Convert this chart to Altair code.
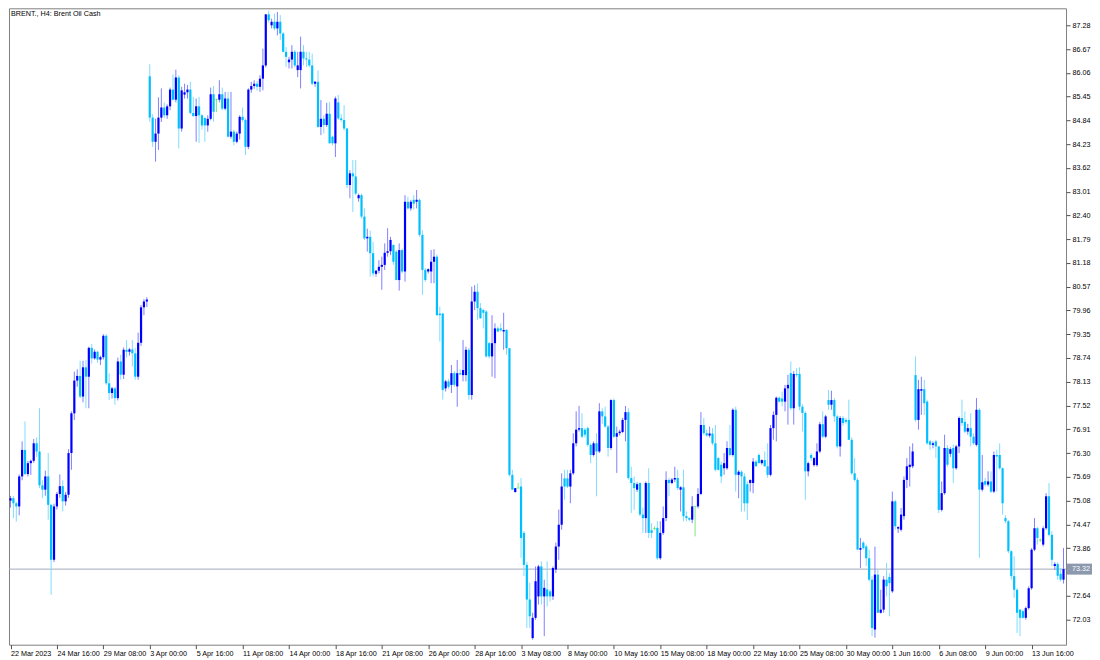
import json
import altair as alt
import pandas as pd

TITLE = "BRENT., H4:  Brent Oil Cash"
LAST_PRICE = 73.32

OPEN = [
    # 0-47
    75.08, 75.14, 75.01, 74.93, 75.70, 76.38, 75.76, 76.04, 76.10, 76.55,
    76.34, 75.47, 75.36, 75.70, 74.97, 73.56, 74.93, 75.25, 75.45, 75.06,
    75.23, 76.30, 77.32, 78.16, 78.28, 77.75, 78.50, 78.26, 79.00, 78.73,
    78.90, 78.70, 78.76, 79.31, 78.09, 77.84, 77.96, 77.71, 78.65, 78.31,
    78.95, 78.90, 78.96, 78.86, 78.26, 79.13, 80.04, 80.19,
    # 48-116
    85.97, 84.91, 84.29, 84.50, 84.91, 85.17, 84.97, 85.20, 85.63, 85.37,
    85.94, 84.63, 85.50, 85.56, 85.63, 85.03, 84.95, 85.20, 84.97, 84.90,
    84.71, 84.88, 85.51, 85.37, 85.37, 85.51, 85.14, 85.40, 84.42, 84.55,
    84.29, 84.50, 84.93, 84.85, 84.16, 85.63, 85.72, 85.78, 85.70, 85.91,
    86.25, 87.56, 87.28, 87.37, 87.20, 87.37, 87.07, 86.60, 86.33, 86.40,
    86.60, 86.13, 86.13, 86.60, 86.43, 86.40, 86.25, 85.78, 85.83, 84.67,
    84.88, 84.72, 85.01, 84.42, 84.25, 85.30, 84.89, 84.85, 84.63,
    # 117-171
    83.18, 83.48, 83.40, 82.84, 82.92, 82.37, 81.81, 81.85, 81.43, 80.90,
    80.98, 81.08, 81.13, 81.44, 81.48, 81.64, 81.47, 80.74, 81.51, 80.96,
    82.75, 82.58, 82.80, 82.75, 82.80, 81.90, 81.00, 80.96, 80.96, 81.21,
    81.34, 79.88, 79.88, 77.96, 78.14, 78.05, 78.35, 78.01, 78.35, 78.30,
    78.30, 78.95, 77.79, 80.19, 80.44, 80.02, 79.97, 79.93, 79.12, 78.78,
    79.12, 79.50, 79.50, 79.42, 79.46,
    # 172-214
    78.99, 75.74, 75.30, 75.40, 75.44, 74.25, 73.43, 72.54, 71.55, 72.07,
    72.62, 73.39, 72.62, 72.80, 72.75, 72.62, 73.31, 73.90, 74.46, 75.65,
    75.65, 75.44, 75.78, 76.55, 76.90, 76.94, 76.90, 76.94, 76.51, 76.25,
    76.55, 76.34, 77.37, 77.24, 76.98, 76.43, 77.66, 76.72, 76.81, 76.84,
    77.15, 77.35, 75.66,
    # 215-289
    75.53, 75.36, 75.53, 74.72, 74.63, 75.53, 74.32, 74.36, 74.38, 73.60,
    74.25, 74.63, 75.61, 75.53, 75.62, 75.66, 75.36, 75.42, 74.68, 74.63,
    74.59, 74.93, 74.93, 75.25, 77.02, 76.81, 76.75, 76.80, 76.55, 76.17,
    76.00, 75.91, 75.91, 76.43, 76.25, 77.41, 75.74, 75.82, 75.70, 75.50,
    75.53, 75.53, 76.08, 76.25, 76.04, 76.12, 75.96, 75.74, 76.94, 77.28,
    77.72, 77.70, 77.62, 77.96, 78.35, 77.45, 78.33, 78.33, 77.49, 77.33,
    75.83, 76.25, 75.99, 75.99, 76.34, 77.04, 76.72, 77.66, 77.54, 77.66,
    77.24, 76.47, 77.20, 77.15, 77.15,
    # 290-363
    76.64, 75.78, 75.61, 73.82, 74.00, 73.90, 73.60, 73.05, 71.77, 73.18,
    72.20, 72.28, 73.05, 73.12, 72.75, 75.06, 74.36, 74.33, 74.68, 75.61,
    75.94, 75.96, 78.30, 77.15, 77.90, 77.94, 77.62, 76.60, 76.51, 76.60,
    76.47, 74.84, 75.27, 76.43, 76.28, 76.43, 75.91, 76.47, 77.20, 77.10,
    76.85, 76.94, 76.72, 76.51, 77.41, 75.36, 75.58, 75.49, 75.57, 75.31,
    76.25, 76.25, 75.91, 74.63, 74.55, 73.78, 73.14, 72.79, 72.28, 72.24,
    72.07, 72.32, 72.83, 73.82, 74.37, 74.07, 73.95, 74.37, 75.19, 74.20,
    73.40, 73.45, 73.20, 73.05,
]

HIGH = [
    # 0-47
    75.20, 75.20, 75.05, 75.75, 76.60, 77.11, 76.10, 76.13, 76.66, 76.70,
    77.45, 75.60, 75.85, 76.30, 75.00, 75.00, 75.30, 75.75, 75.60, 75.30,
    76.40, 77.37, 78.39, 78.45, 78.67, 78.67, 78.69, 79.03, 79.10, 78.96,
    78.92, 78.80, 79.35, 79.35, 78.35, 78.00, 78.00, 78.75, 78.82, 79.01,
    79.20, 79.00, 79.20, 79.00, 79.39, 80.10, 80.25, 80.30,
    # 48-116
    86.28, 85.00, 84.88, 85.43, 85.66, 85.30, 85.25, 85.68, 86.02, 86.14,
    86.00, 85.70, 85.78, 85.75, 85.83, 85.44, 85.40, 85.44, 85.00, 84.92,
    84.97, 85.68, 85.72, 85.40, 85.87, 85.68, 85.57, 85.57, 85.57, 84.60,
    84.55, 84.97, 85.17, 84.89, 85.66, 85.83, 85.87, 85.85, 86.00, 86.68,
    87.57, 87.65, 87.45, 87.58, 87.62, 87.54, 87.10, 86.72, 86.47, 86.77,
    86.65, 86.60, 86.99, 86.77, 86.60, 86.60, 86.55, 85.85, 86.12, 85.36,
    84.97, 85.29, 85.31, 84.45, 85.45, 85.49, 85.00, 85.23, 84.65,
    # 117-171
    83.56, 83.82, 83.82, 82.96, 82.96, 82.58, 82.06, 82.01, 81.72, 81.00,
    81.25, 81.34, 81.68, 82.07, 81.85, 81.66, 81.50, 81.68, 81.55, 82.92,
    82.88, 82.80, 82.92, 83.05, 82.83, 82.02, 81.05, 81.04, 81.51, 81.53,
    81.40, 80.06, 79.90, 78.18, 78.20, 78.56, 78.40, 78.69, 78.45, 79.20,
    79.03, 79.00, 80.57, 80.61, 80.65, 80.15, 80.00, 79.97, 79.15, 79.84,
    79.63, 79.55, 79.63, 79.90, 79.48,
    # 172-214
    79.00, 75.87, 75.40, 75.53, 75.66, 74.30, 73.50, 72.97, 72.20, 73.39,
    73.43, 73.52, 73.05, 73.52, 72.80, 73.39, 74.00, 74.85, 75.78, 75.87,
    75.87, 75.87, 76.81, 77.37, 77.51, 77.32, 76.95, 76.98, 76.55, 76.60,
    76.81, 77.58, 77.45, 77.49, 77.02, 77.68, 77.70, 76.98, 76.90, 77.20,
    77.51, 77.45, 75.95,
    # 215-289
    75.70, 75.55, 75.55, 74.90, 75.57, 75.91, 74.50, 74.42, 74.55, 74.55,
    74.93, 75.83, 75.66, 75.66, 75.95, 75.87, 75.45, 75.87, 74.80, 74.65,
    75.19, 74.93, 75.40, 77.35, 77.20, 76.90, 76.98, 76.94, 77.02, 76.20,
    76.08, 76.30, 76.60, 77.02, 77.45, 77.49, 75.86, 75.86, 75.78, 75.57,
    75.62, 76.17, 76.12, 76.29, 76.14, 76.34, 76.55, 77.02, 77.37, 77.75,
    77.75, 77.88, 78.05, 78.31, 78.65, 78.40, 78.48, 78.50, 77.55, 77.37,
    76.08, 76.30, 76.20, 76.55, 77.10, 77.37, 77.28, 77.92, 77.90, 77.71,
    77.28, 77.25, 77.25, 77.20, 77.67,
    # 290-363
    76.70, 76.17, 75.66, 74.12, 74.04, 73.95, 73.82, 73.14, 73.90, 73.31,
    72.79, 73.14, 73.48, 73.22, 75.31, 75.10, 74.42, 74.89, 75.70, 76.17,
    76.47, 76.55, 78.78, 78.18, 78.26, 78.18, 77.67, 76.64, 76.60, 76.64,
    76.47, 75.57, 76.77, 76.50, 76.45, 76.51, 76.51, 77.24, 77.67, 77.37,
    77.05, 77.32, 76.81, 77.71, 77.45, 76.25, 75.66, 75.83, 75.83, 76.34,
    76.38, 76.55, 75.93, 74.70, 74.58, 73.80, 73.65, 72.83, 72.30, 72.28,
    72.36, 72.88, 73.86, 74.63, 74.40, 74.10, 74.42, 75.27, 75.53, 74.30,
    73.50, 73.50, 73.35, 73.86,
]

LOW = [
    # 0-47
    74.90, 74.63, 74.54, 74.70, 75.60, 75.74, 75.70, 75.74, 76.05, 76.20,
    75.40, 75.14, 75.20, 74.59, 72.66, 73.50, 74.85, 75.15, 74.80, 74.95,
    75.15, 75.87, 77.15, 78.00, 77.71, 77.60, 77.45, 77.45, 78.60, 78.70,
    78.62, 78.56, 78.70, 78.05, 77.66, 77.70, 77.54, 77.65, 78.18, 78.20,
    78.75, 78.80, 78.52, 78.18, 78.18, 79.05, 79.84, 80.05,
    # 48-116
    84.80, 84.16, 83.78, 84.08, 84.80, 84.90, 84.88, 85.10, 85.35, 85.30,
    84.12, 84.55, 85.40, 85.40, 85.00, 84.93, 84.29, 84.26, 84.60, 84.29,
    84.55, 84.84, 84.80, 85.05, 85.30, 85.10, 85.10, 84.40, 84.37, 84.20,
    84.25, 84.35, 84.80, 83.95, 84.10, 85.55, 85.65, 85.60, 85.57, 85.61,
    86.20, 87.35, 87.20, 87.15, 87.02, 86.90, 86.59, 86.21, 86.17, 86.17,
    86.20, 85.95, 85.66, 86.25, 86.21, 86.20, 85.74, 85.70, 84.65, 84.46,
    84.50, 84.67, 84.25, 84.20, 83.90, 84.85, 84.80, 84.58, 83.10,
    # 117-171
    82.84, 82.49, 82.92, 82.75, 82.32, 81.77, 81.47, 80.83, 80.83, 80.83,
    80.91, 80.49, 81.00, 81.34, 81.38, 81.13, 80.74, 80.47, 80.91, 80.70,
    82.55, 82.52, 82.55, 82.58, 81.85, 80.36, 80.70, 80.91, 80.66, 80.66,
    79.82, 79.16, 77.67, 77.88, 77.95, 77.84, 78.00, 77.49, 78.30, 78.14,
    78.14, 77.67, 77.67, 79.97, 79.72, 79.75, 79.50, 78.75, 78.73, 78.26,
    78.22, 79.40, 79.42, 78.95, 78.82,
    # 172-214
    75.70, 75.36, 75.28, 75.40, 73.61, 73.14, 71.81, 71.81, 71.51, 72.02,
    72.41, 72.41, 71.60, 72.36, 72.49, 72.53, 73.22, 73.56, 74.33, 75.10,
    75.40, 75.01, 75.74, 76.47, 76.85, 76.68, 76.70, 76.47, 76.04, 76.21,
    75.19, 76.30, 77.05, 76.95, 76.21, 76.38, 76.68, 75.79, 76.75, 76.81,
    76.60, 75.62, 74.76,
    # 215-289
    74.84, 75.30, 74.68, 74.25, 74.25, 74.12, 74.12, 74.32, 73.56, 73.56,
    74.20, 74.55, 75.19, 75.50, 75.55, 75.35, 74.80, 74.55, 74.55, 74.55,
    74.50, 74.16, 74.88, 75.22, 76.76, 76.72, 76.70, 76.50, 75.83, 75.85,
    75.53, 75.74, 75.87, 76.21, 76.21, 75.31, 75.14, 74.80, 74.80, 74.58,
    75.31, 75.27, 75.95, 76.04, 76.00, 75.95, 75.66, 75.70, 76.64, 76.60,
    77.60, 77.50, 77.37, 77.03, 77.40, 77.03, 78.25, 77.40, 76.85, 75.10,
    75.70, 76.10, 75.95, 75.95, 76.30, 76.68, 76.68, 77.41, 77.41, 77.10,
    76.42, 76.21, 77.00, 77.05, 76.64,
    # 290-363
    75.74, 75.57, 73.82, 73.35, 73.82, 73.40, 73.00, 71.60, 71.56, 72.20,
    72.18, 72.20, 72.62, 72.11, 72.71, 74.33, 74.25, 74.29, 74.59, 75.40,
    75.44, 75.91, 77.10, 76.90, 77.28, 77.28, 76.51, 76.38, 76.42, 76.17,
    74.76, 74.80, 75.23, 75.95, 76.20, 75.53, 75.87, 76.30, 77.00, 76.81,
    76.77, 76.47, 76.51, 76.47, 73.61, 75.31, 75.44, 75.44, 75.27, 75.27,
    75.31, 75.87, 74.72, 74.50, 73.73, 73.05, 72.58, 71.68, 71.60, 72.05,
    72.02, 72.28, 72.79, 73.78, 73.95, 74.02, 73.90, 74.33, 74.16, 73.40,
    73.30, 73.05, 73.00, 72.95,
]

CLOSE = [
    # 0-47
    75.14, 75.01, 74.93, 75.70, 76.38, 75.76, 76.04, 76.10, 76.55, 76.34,
    75.47, 75.36, 75.70, 74.97, 73.56, 74.93, 75.25, 75.45, 75.06, 75.23,
    76.30, 77.32, 78.16, 78.28, 77.75, 78.50, 78.26, 79.00, 78.73, 78.90,
    78.70, 78.76, 79.31, 78.09, 77.84, 77.96, 77.71, 78.65, 78.31, 78.95,
    78.90, 78.96, 78.86, 78.26, 79.13, 80.04, 80.19, 80.24,
    # 48-116
    84.91, 84.29, 84.50, 84.91, 85.17, 84.97, 85.20, 85.63, 85.37, 85.94,
    84.63, 85.61, 85.56, 85.63, 85.03, 84.95, 85.20, 84.97, 84.71, 84.71,
    84.88, 85.51, 85.06, 85.37, 85.51, 85.14, 85.40, 84.42, 84.55, 84.29,
    84.50, 84.93, 84.85, 84.16, 85.63, 85.72, 85.78, 85.70, 85.91, 86.25,
    87.56, 87.41, 87.37, 87.20, 87.37, 87.07, 86.60, 86.47, 86.40, 86.60,
    86.25, 86.25, 86.60, 86.43, 86.40, 86.25, 85.78, 85.83, 84.67, 84.88,
    84.72, 85.01, 84.25, 84.25, 85.40, 84.89, 84.85, 84.63, 83.18,
    # 117-171
    83.48, 83.40, 82.96, 82.92, 82.37, 81.81, 81.85, 81.43, 80.91, 80.98,
    81.08, 81.13, 81.44, 81.48, 81.77, 81.21, 80.74, 81.51, 80.96, 82.75,
    82.58, 82.75, 82.70, 82.80, 81.90, 81.00, 80.74, 81.02, 81.21, 81.34,
    79.84, 79.84, 77.92, 78.14, 78.00, 78.35, 78.05, 78.35, 78.32, 78.43,
    78.95, 77.79, 80.19, 80.44, 80.02, 79.76, 79.90, 78.78, 78.78, 79.12,
    79.50, 79.42, 79.45, 79.46, 78.99,
    # 172-214
    75.74, 75.36, 75.40, 75.40, 74.12, 73.43, 72.54, 72.11, 72.07, 73.01,
    73.39, 72.62, 72.84, 72.62, 72.62, 73.35, 73.90, 74.46, 75.44, 75.44,
    75.44, 75.78, 76.55, 76.90, 76.94, 76.72, 76.77, 76.51, 76.25, 76.55,
    76.34, 77.37, 77.24, 76.98, 76.43, 77.66, 76.72, 76.81, 76.85, 77.15,
    77.35, 75.66, 75.53,
    # 215-289
    75.40, 75.50, 74.72, 74.63, 75.53, 74.25, 74.25, 74.36, 73.60, 74.25,
    74.63, 75.61, 75.53, 75.62, 75.66, 75.40, 75.42, 74.68, 74.63, 74.59,
    74.93, 74.93, 75.25, 77.02, 76.81, 76.75, 76.80, 76.55, 75.87, 75.87,
    75.70, 76.04, 76.43, 76.25, 77.41, 75.74, 75.82, 75.70, 75.01, 75.01,
    75.61, 76.08, 75.96, 76.04, 76.12, 75.96, 75.74, 76.94, 77.28, 77.72,
    77.62, 77.62, 77.96, 78.05, 77.45, 78.33, 78.30, 77.49, 77.33, 75.83,
    76.04, 76.17, 76.17, 76.34, 77.04, 76.72, 77.24, 77.54, 77.66, 77.24,
    76.47, 77.20, 77.07, 77.10, 76.64,
    # 290-363
    75.78, 75.61, 73.82, 73.86, 73.86, 73.60, 73.05, 71.81, 73.18, 72.20,
    72.28, 73.05, 72.88, 72.96, 75.06, 74.42, 74.40, 74.72, 75.61, 75.96,
    76.00, 76.34, 77.15, 77.94, 77.94, 77.58, 76.55, 76.51, 76.55, 76.47,
    74.84, 75.27, 76.43, 76.00, 76.40, 75.91, 76.47, 77.20, 77.07, 76.85,
    76.94, 76.72, 76.55, 77.41, 75.36, 75.55, 75.49, 75.57, 75.31, 76.25,
    76.21, 75.91, 75.01, 74.55, 73.78, 73.14, 72.79, 72.20, 72.07, 72.07,
    72.32, 72.83, 73.82, 74.37, 74.12, 74.07, 74.37, 75.19, 74.20, 73.56,
    73.45, 73.15, 73.05, 73.32,
]

X_TICK_LABELS = [
    "22 Mar 2023", "24 Mar 16:00", "29 Mar 08:00", "3 Apr 00:00", "5 Apr 16:00",
    "11 Apr 08:00", "14 Apr 00:00", "18 Apr 16:00", "21 Apr 08:00", "26 Apr 00:00",
    "28 Apr 16:00", "3 May 08:00", "8 May 00:00", "10 May 16:00", "15 May 08:00",
    "18 May 00:00", "22 May 16:00", "25 May 08:00", "30 May 00:00", "1 Jun 16:00",
    "6 Jun 08:00", "9 Jun 00:00", "13 Jun 16:00",
]
BARS_PER_LABEL = 16

Y_TICKS = [
    72.03, 72.64, 73.25, 73.86, 74.47, 75.08, 75.69, 76.30, 76.91, 77.52,
    78.13, 78.74, 79.35, 79.96, 80.57, 81.18, 81.79, 82.40, 83.01, 83.62,
    84.23, 84.84, 85.45, 86.06, 86.67, 87.28,
]

assert len(OPEN) == len(HIGH) == len(LOW) == len(CLOSE)
n = len(CLOSE)

df = pd.DataFrame({"i": list(range(n)), "open": OPEN, "high": HIGH, "low": LOW, "close": CLOSE})
df["kind"] = ["up" if c > o else ("down" if c < o else "doji") for o, c in zip(OPEN, CLOSE)]
df["bkind"] = "b_" + df["kind"]
last = pd.DataFrame({"p": [LAST_PRICE]})
title_df = pd.DataFrame({"t": [TITLE]})

W, H = 1058, 637
FONT = "Liberation Sans"
FS = 7.2

xscale = alt.Scale(domain=[-0.52, n - 1 + 0.87], nice=False, zero=False)
yscale = alt.Scale(domain=[71.38, 87.716], nice=False, zero=False)

tick_vals = [BARS_PER_LABEL * k for k in range(len(X_TICK_LABELS))]
label_expr = f"{json.dumps(X_TICK_LABELS)}[round(datum.value / {BARS_PER_LABEL})]"
# the last-price box sits over the tick label nearest to it, as in the terminal
y_label_expr = f"abs(datum.value - {LAST_PRICE}) < 0.2 ? '' : format(datum.value, '.2f')"

x_axis = alt.Axis(values=tick_vals, labelExpr=label_expr, labelAlign="left", labelBaseline="top",
                  labelPadding=1, tickSize=4, tickColor="#505050", domain=False,
                  grid=False, title=None, labelOverlap=False, labelFlush=False, labelBound=False,
                  labelFont=FONT, labelFontSize=FS, labelColor="#000000")
y_axis = alt.Axis(orient="right", values=Y_TICKS, labelExpr=y_label_expr, tickSize=4,
                  tickColor="#505050", labelPadding=2, domain=False, grid=False, title=None,
                  labelOverlap=False, labelFont=FONT, labelFontSize=FS, labelColor="#000000")

kinds = ["up", "down", "doji"]
bkinds = ["b_up", "b_down", "b_doji"]
all_kinds = kinds + bkinds
# wick colours (thin, anti-aliased look) then body colours
all_colors = ["#7f7fff", "#7fdcff", "#7fe87f", "#0000ff", "#00bfff", "#55ee55"]
color_scale = alt.Scale(domain=all_kinds, range=all_colors)

X = alt.X("i:Q", scale=xscale, axis=x_axis)

base = alt.Chart(df)

wicks = base.mark_rule(strokeWidth=1).encode(
    x=X,
    y=alt.Y("low:Q", scale=yscale, axis=y_axis),
    y2="high:Q",
    color=alt.Color("kind:N", scale=color_scale, legend=None),
)

bodies = base.mark_rule(strokeWidth=2.2, strokeCap="butt").encode(
    x=X,
    y=alt.Y("open:Q", scale=yscale, axis=y_axis),
    y2="close:Q",
    color=alt.Color("bkind:N", scale=color_scale, legend=None),
)

doji = base.transform_filter(alt.datum.kind == "doji").mark_tick(
    orient="horizontal", size=3, thickness=1, color="#55ee55"
).encode(
    x=X,
    y=alt.Y("close:Q", scale=yscale, axis=y_axis),
)

price_line = alt.Chart(last).mark_rule(color="#a3abbb", strokeWidth=1).encode(
    y=alt.Y("p:Q", scale=yscale, axis=y_axis)
)

box_path = "M0,-0.44 L2,-0.44 L2,0.44 L0,0.44 Z"
price_box = alt.Chart(last).mark_point(shape=box_path, size=625, filled=True, fill="#8b98ae",
                                      opacity=1, strokeWidth=0).encode(
    x=alt.value(W + 1),
    y=alt.Y("p:Q", scale=yscale, axis=y_axis),
)
price_text = alt.Chart(last).mark_text(align="left", baseline="middle", font=FONT, fontSize=FS,
                                      color="#ffffff").encode(
    x=alt.value(W + 6),
    y=alt.Y("p:Q", scale=yscale, axis=y_axis),
    text=alt.Text("p:Q", format=".2f"),
)

title = alt.Chart(title_df).mark_text(align="left", baseline="top", font=FONT, fontSize=FS,
                                      color="#000000").encode(
    x=alt.value(2), y=alt.value(2), text="t:N"
)

chart = alt.layer(price_line, wicks, bodies, doji, price_box, price_text, title).properties(
    width=W, height=H, padding=0, background="#ffffff"
).configure_view(stroke="#808080", strokeWidth=1).configure_axis(labelFont=FONT)

chart.save("out.html", embed_options={"renderer": "svg", "actions": False})
